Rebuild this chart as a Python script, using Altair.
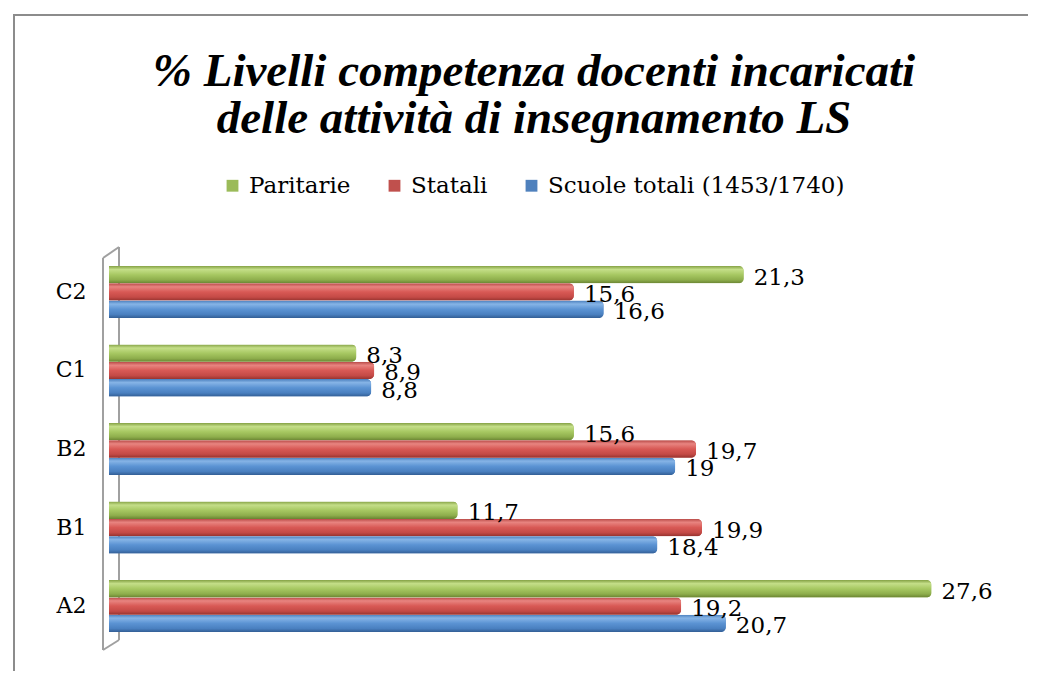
import altair as alt
import pandas as pd

categories = ["C2", "C1", "B2", "B1", "A2"]
series = ["Paritarie", "Statali", "Scuole totali (1453/1740)"]
paritarie = [21.3, 8.3, 15.6, 11.7, 27.6]
statali = [15.6, 8.9, 19.7, 19.9, 19.2]
totali = [16.6, 8.8, 19.0, 18.4, 20.7]

colors = ["#9bbb59", "#c0504d", "#4f81bd"]
gradients = {
    "Paritarie": ["#86a346", "#c4de88", "#a7c862", "#8eae4c", "#6a8432"],
    "Statali": ["#b84a47", "#e88480", "#d85955", "#c44a46", "#96332f"],
    "Scuole totali (1453/1740)": ["#4b7fbd", "#86b4e6", "#5b93d3", "#4a80c0", "#335f96"],
}

rows = []
for s, vals in zip(series, [paritarie, statali, totali]):
    for c, v in zip(categories, vals):
        lab = ("%g" % v).replace(".", ",")
        rows.append({"cat": c, "serie": s, "value": v, "label": lab})
df = pd.DataFrame(rows)

W, H = 894, 402
FONT = "DejaVu Serif"

y_enc = alt.Y("cat:N", sort=categories,
              scale=alt.Scale(paddingInner=0.34, paddingOuter=0.23),
              axis=alt.Axis(title=None, ticks=False, domain=False, labelFont=FONT,
                            labelFontSize=22, labelColor="black", labelPadding=23))
x_enc = alt.X("value:Q", scale=alt.Scale(domain=[0, 30]), axis=None)
yoff = alt.YOffset("serie:N", scale=alt.Scale(domain=series))

base = alt.Chart(df)

solid = base.mark_bar(cornerRadiusEnd=5).encode(
    y=y_enc, x=x_enc, yOffset=yoff,
    color=alt.Color("serie:N", scale=alt.Scale(domain=series, range=colors),
                    legend=alt.Legend(title=None, orient="none", direction="horizontal",
                                      legendX=112, legendY=-74, symbolType="square",
                                      symbolSize=140, symbolStrokeWidth=0,
                                      labelFont=FONT, labelFontSize=23, labelColor="black",
                                      labelLimit=500, columnPadding=32, labelOffset=5)),
)

layers = [solid]
for s in series:
    st = gradients[s]
    grad = alt.LinearGradient(
        gradient="linear", x1=0, y1=0, x2=0, y2=1,
        stops=[alt.GradientStop(offset=0, color=st[0]),
               alt.GradientStop(offset=0.2, color=st[1]),
               alt.GradientStop(offset=0.5, color=st[2]),
               alt.GradientStop(offset=0.8, color=st[3]),
               alt.GradientStop(offset=1, color=st[4])])
    layers.append(
        base.transform_filter(alt.datum.serie == s)
        .mark_bar(cornerRadiusEnd=5, color=grad)
        .encode(y=y_enc, x=x_enc, yOffset=yoff)
    )

labels = base.mark_text(align="left", baseline="middle", dx=10, dy=3,
                        font=FONT, fontSize=23, color="black").encode(
    y=y_enc, x=x_enc, yOffset=yoff, text="label:N")

one = alt.Data(values=[{"k": 1}])
wall_style = dict(color="#a0a0a0", strokeWidth=2)
wall = [
    alt.Chart(one).mark_rule(**wall_style).encode(x=alt.value(-6), x2=alt.value(-6), y=alt.value(10), y2=alt.value(402)),
    alt.Chart(one).mark_rule(**wall_style).encode(x=alt.value(10), x2=alt.value(10), y=alt.value(-1), y2=alt.value(392)),
    alt.Chart(one).mark_rule(**wall_style).encode(x=alt.value(-6), x2=alt.value(10), y=alt.value(10), y2=alt.value(-1)),
    alt.Chart(one).mark_rule(**wall_style).encode(x=alt.value(-6), x2=alt.value(10), y=alt.value(402), y2=alt.value(392)),
]
frame_style = dict(color="#8c8c8c", strokeWidth=2)
frame = [
    alt.Chart(one).mark_rule(**frame_style).encode(x=alt.value(-95), x2=alt.value(-95), y=alt.value(-233), y2=alt.value(430)),
    alt.Chart(one).mark_rule(**frame_style).encode(x=alt.value(-96), x2=alt.value(925), y=alt.value(-233), y2=alt.value(-233)),
]

chart = alt.layer(*frame, *wall, *layers, labels).properties(
    width=W, height=H,
    background="white",
    autosize=alt.AutoSizeParams(type="none"),
    padding={"left": 101, "top": 240, "right": 25, "bottom": 21},
    title=alt.TitleParams(
        text=["% Livelli competenza docenti incaricati", "delle attività di insegnamento LS"],
        font="Liberation Serif", fontSize=47, fontWeight="bold", fontStyle="italic",
        color="black", anchor="middle", dx=-22, offset=0, dy=129, lineHeight=47),
).configure_view(strokeWidth=0, stroke=None)

chart.save("out.html", embed_options={"renderer": "svg", "actions": False})
